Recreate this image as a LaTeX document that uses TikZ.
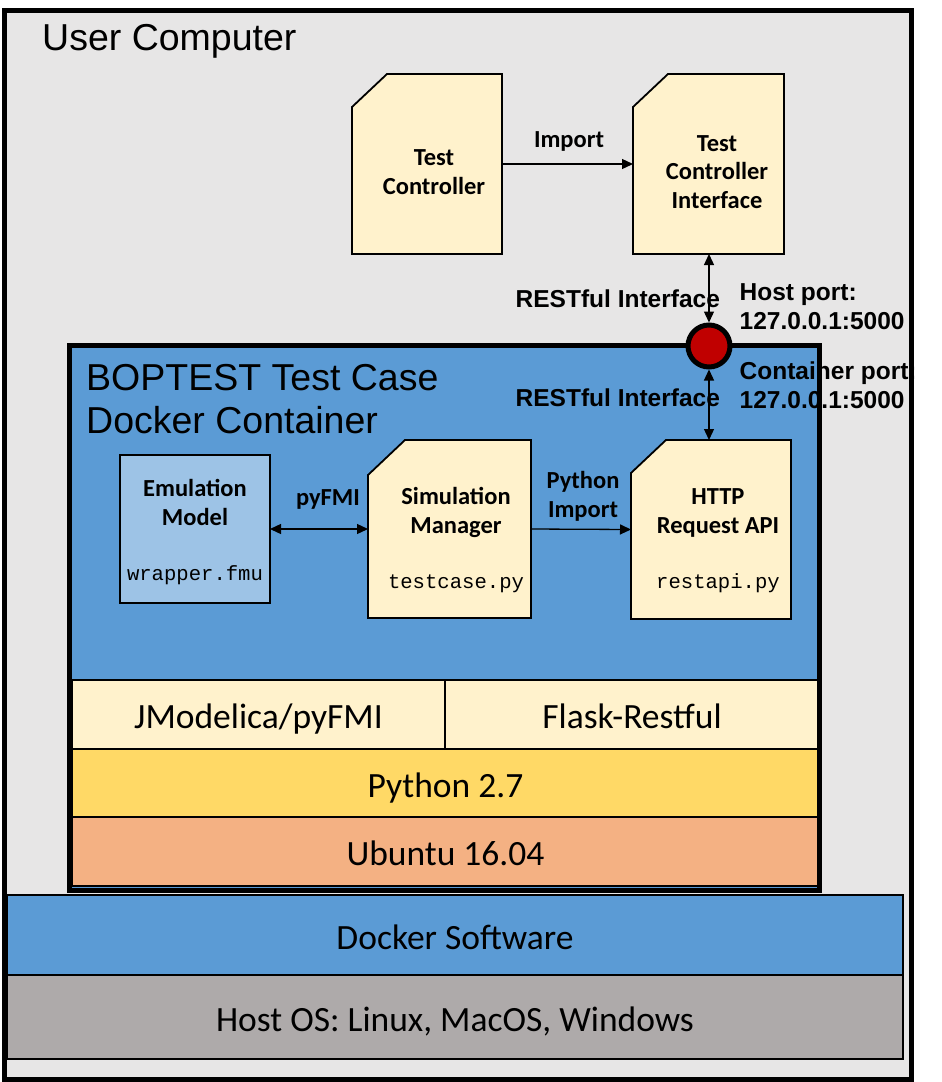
\documentclass[tikz,border=0pt]{standalone}
\usepackage{fontspec}
\setmainfont{Carlito}
\newfontfamily\arialf{Liberation Sans}
\newfontfamily\courf{Liberation Mono}
\usetikzlibrary{arrows.meta}
\definecolor{ucgray}{HTML}{E7E6E6}
\definecolor{dockblue}{HTML}{5B9BD5}
\definecolor{docyel}{HTML}{FFF2CC}
\definecolor{emublue}{HTML}{9DC3E6}
\definecolor{pyyel}{HTML}{FFD966}
\definecolor{ubor}{HTML}{F4B183}
\definecolor{hostgray}{HTML}{AEAAAA}
\definecolor{portred}{HTML}{C00000}
\newcommand\docshape[3]{\filldraw[doc] ([yshift=-#3]#1.north west) -- ([xshift=#2]#1.north west) -- (#1.north east) -- (#1.south east) -- (#1.south west) -- cycle;}
\tikzset{
 lbl/.style={font=\bfseries\fontsize{24.5}{28.5}\selectfont, align=center, anchor=base, inner sep=0},
 code/.style={font=\courf\fontsize{20.6}{24}\selectfont, anchor=base, inner sep=0},
 arb/.style={font=\arialf\bfseries\fontsize{24.5}{28.5}\selectfont, align=left, anchor=base west, inner sep=0},
 titletext/.style={font=\arialf\fontsize{37.5}{43}\selectfont, align=left, anchor=base west, inner sep=0},
 region/.style={anchor=north west, inner sep=0, outer sep=0},
 layer/.style={region, draw=black, line width=2pt, font=\fontsize{35.5}{40}\selectfont, text height=28pt, text depth=0pt},
 doc/.style={fill=docyel, draw=black, line width=1.8pt, line join=miter},
 conn/.style={line width=1.3pt, -{Triangle[length=11pt,width=10pt]}},
 dconn/.style={line width=1.3pt, {Triangle[length=11pt,width=10pt]}-{Triangle[length=11pt,width=10pt]}},
}
\begin{document}
\begin{tikzpicture}[x=1pt,y=-1pt]
\useasboundingbox (0,0) rectangle (942,1082);
\fill[white] (0,0) rectangle (942,1082);
% user computer
\node[region, fill=ucgray, minimum width=907pt, minimum height=1069pt] (uc) at (4,10.5) {};
% docker software & host OS
\node[layer, fill=dockblue, minimum width=896pt, minimum height=80pt] (dsw) at (7,895) {Docker Software};
\node[layer, fill=hostgray, minimum width=896pt, minimum height=84pt] (hos) at (7,975) {Host OS: Linux, MacOS, Windows};
% container
\node[region, fill=dockblue, minimum width=750pt, minimum height=544.5pt] (ct) at (69.5,345.5) {};
\node[layer, fill=docyel, minimum width=373pt, minimum height=69pt] (jm) at (72,680) {JModelica/pyFMI};
\node[layer, fill=docyel, minimum width=374pt, minimum height=69pt] (fl) at (445,680) {Flask-Restful};
\node[layer, fill=pyyel, minimum width=747pt, minimum height=68pt] (py) at (72,749) {Python 2.7};
\node[layer, fill=ubor, minimum width=747pt, minimum height=69pt] (ub) at (72,817) {Ubuntu 16.04};
% document boxes
\node[region, minimum width=150pt, minimum height=180pt] (tc) at (352,74) {};
\node[region, minimum width=151pt, minimum height=180pt] (tci) at (633,74) {};
\node[region, minimum width=163pt, minimum height=178pt] (sm) at (368,440) {};
\node[region, minimum width=160pt, minimum height=179pt] (http) at (631,440) {};
\docshape{tc}{35pt}{33pt}
\docshape{tci}{35pt}{33pt}
\docshape{sm}{37pt}{35pt}
\docshape{http}{35pt}{33pt}
\node[region, fill=emublue, draw=black, line width=1.8pt, minimum width=150pt, minimum height=148pt] (emu) at (120,455) {};
% texts
\node[titletext] (tuc) at (42,50) {User Computer};
\node[titletext] (tct) at (86,433) {BOPTEST Test Case\\Docker Container};
\node[lbl] (ttc) at (434,194) {Test\\Controller};
\node[lbl] (ttci) at (717,208) {Test\\Controller\\Interface};
\node[lbl] (timp) at (569,147) {Import};
\node[lbl] (temu) at (195,525) {Emulation\\Model};
\node[code] (cemu) at (195,580) {wrapper.fmu};
\node[lbl] (tpf) at (328,505) {pyFMI};
\node[lbl] (tsm) at (456,533) {Simulation\\Manager};
\node[code] (csm) at (456,588) {testcase.py};
\node[lbl] (tpi) at (583,517) {Python\\Import};
\node[lbl] (thttp) at (718,533) {HTTP\\Request API};
\node[code] (chttp) at (718,588) {restapi.py};
\node[arb] (rest1) at (515.5,307) {RESTful Interface};
\node[arb] (rest2) at (515.5,406) {RESTful Interface};
\node[arb] (hp) at (739.5,329) {Host port:\\127.0.0.1:5000};
\node[arb] (cp) at (739.5,408) {Container port:\\127.0.0.1:5000};
% borders
\draw[line width=5pt] (ct.north west) rectangle (ct.south east);
\draw[line width=5pt] (uc.north west) rectangle (uc.south east);
% port and connectors
\node[circle, fill=portred, draw=black, line width=5pt, minimum size=42pt, inner sep=0] (port) at (709,346) {};
\draw[conn] (tc.east) -- (tci.west);
\draw[dconn] (emu.east) -- (sm.west);
\draw[conn] (sm.east) -- (http.west);
\draw[dconn] (port.north |- tci.south) -- (port.north);
\draw[dconn] (port.south) -- (port.south |- http.north);
\end{tikzpicture}
\end{document}
